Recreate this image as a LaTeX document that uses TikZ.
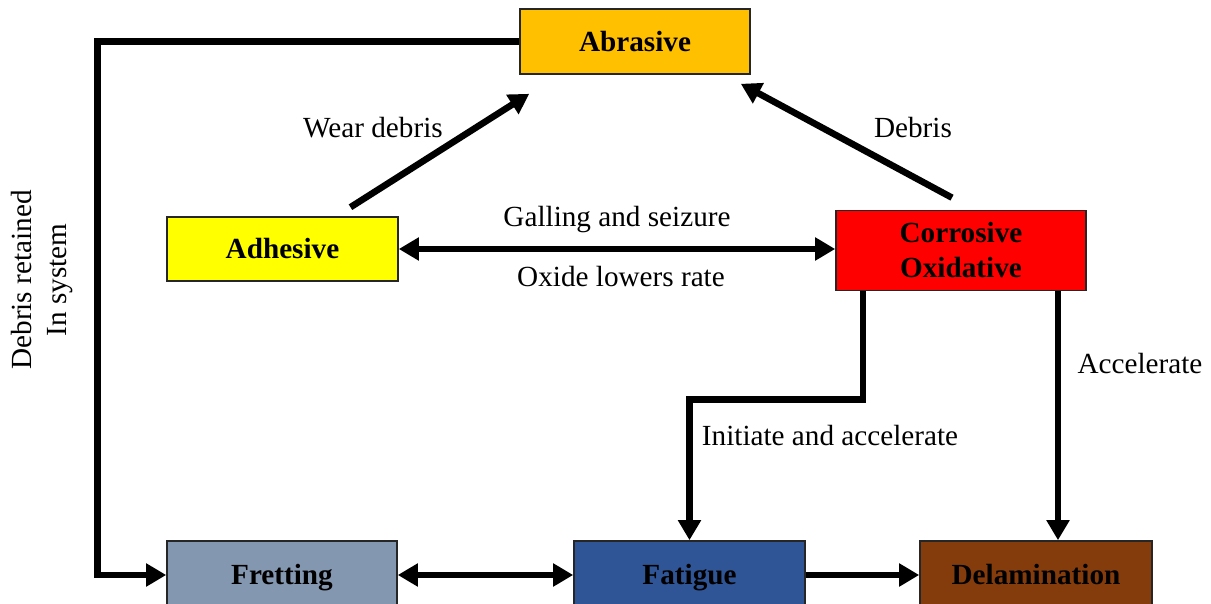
\documentclass[tikz,border=0pt]{standalone}
\usepackage{fontspec}
\setmainfont{Liberation Serif}
\usepackage{xcolor}
\usetikzlibrary{arrows.meta,calc}

\definecolor{abrcol}{HTML}{FFC000}
\definecolor{adhcol}{HTML}{FFFF00}
\definecolor{corcol}{HTML}{FF0000}
\definecolor{frecol}{HTML}{8497B0}
\definecolor{fatcol}{HTML}{2F5597}
\definecolor{delcol}{HTML}{843C0C}

\begin{document}
\begin{tikzpicture}[x=0.5pt,y=-0.5pt,
  font=\fontsize{14.6}{17.5}\selectfont,
  box/.style={draw=black!85,line width=0.8pt,inner sep=0pt,align=center,font=\fontsize{14.6}{17.5}\selectfont\bfseries},
  onebox/.style={box,text height=12.7pt,text depth=3pt},
  arr/.style={line width=3.3pt,-{Triangle[length=10pt,width=11pt]}},
  darr/.style={line width=3.3pt,{Triangle[length=10pt,width=11pt]}-{Triangle[length=10pt,width=11pt]}},
  lbl/.style={inner sep=1pt}]
\useasboundingbox (0,0) rectangle (1211,604);

\node [onebox,fill=abrcol,minimum width=115pt,minimum height=32.5pt] (abr) at (635,41.5) {Abrasive};
\node [onebox,fill=adhcol,minimum width=115.5pt,minimum height=32pt] (adh) at (282.5,249) {Adhesive};
\node [box,fill=corcol,minimum width=125pt,minimum height=40pt] (cor) at (961,250.5) {Corrosive\\Oxidative};
\node [onebox,fill=frecol,minimum width=115pt,minimum height=34pt] (fre) at (282,575) {Fretting};
\node [onebox,fill=fatcol,minimum width=115.5pt,minimum height=34pt] (fat) at (689.5,575) {Fatigue};
\node [onebox,fill=delcol,minimum width=116pt,minimum height=34pt] (del) at (1036,575) {Delamination};

\draw [arr] (abr.west) -- ++(-422,0) |- (fre.west);
\draw [arr] ($(adh.north)+(68,-9)$) -- ($(abr.south west)+(10,19)$);
\draw [arr] ($(cor.north)+(-9,-12)$) -- ($(abr.south east)+(-10,9)$);
\draw [darr] (adh.east) -- (adh.east -| cor.west);
\draw [arr] ($(cor.south)+(-98,0)$) -- ++(0,108) -| (fat.north);
\draw [arr] ($(cor.south)+(97,0)$) -- ($(del.north)+(22,0)$);
\draw [darr] (fre.east) -- (fat.west);
\draw [arr] (fat.east) -- (del.west);

\node [lbl] (wear) at (373,128) {Wear debris};
\node [lbl] (deb) at (913,128) {Debris};
\node [lbl] (gall) at (617,220) {Galling and seizure};
\node [lbl] (oxi) at (621,277) {Oxide lowers rate};
\node [lbl] (init) at (830,436) {Initiate and accelerate};
\node [lbl] (acc) at (1140,364) {Accelerate};
\node [lbl,rotate=90,align=center] (ret) at (42,280) {Debris retained\\In system};
\end{tikzpicture}
\end{document}
